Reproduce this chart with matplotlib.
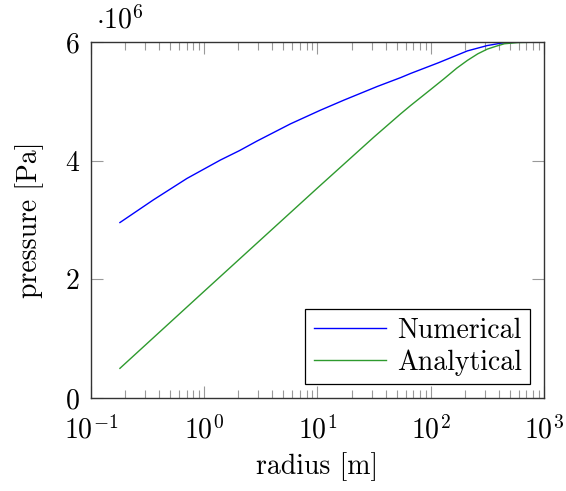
import matplotlib
matplotlib.use("Agg")
import matplotlib.pyplot as plt
from matplotlib.ticker import LogLocator, NullFormatter

plt.rcParams["font.family"] = "serif"
plt.rcParams["font.serif"] = ["cmr10"]
plt.rcParams["mathtext.fontset"] = "cm"
plt.rcParams["axes.formatter.use_mathtext"] = True

# radius [m] and pressure [1e6 Pa]
num_r = [0.18, 0.356, 0.703, 1.387, 2.05, 2.92, 5.77, 10.6, 17.1, 33.7, 54.3, 66.5,
         117, 211, 316, 417, 600, 1000]
num_p = [2.957, 3.34, 3.70, 4.01, 4.17, 4.33, 4.62, 4.85, 5.02, 5.25, 5.40, 5.47,
         5.65, 5.85, 5.94, 5.98, 6.0, 6.0]

ana_r = [0.18, 1.0, 10.0, 31.6, 54.3, 66.5, 100, 131, 170, 211, 260, 316, 380, 447, 589, 1000]
ana_p = [0.50, 1.80, 3.54, 4.40, 4.79, 4.93, 5.20, 5.38, 5.56, 5.69, 5.80, 5.88, 5.93, 5.97, 5.99, 6.0]

fig = plt.figure(figsize=(5.66, 4.91), dpi=100)
ax = fig.add_axes([0.1608, 0.1894, 0.8003, 0.7251])

ax.plot(num_r, num_p, color="#0000ff", lw=1.0, label="Numerical")
ax.plot(ana_r, ana_p, color="#2e9a2e", lw=1.0, label="Analytical")

ax.set_xscale("log")
ax.set_xlim(0.1, 1000)
ax.set_ylim(0, 6)
ax.set_yticks([0, 2, 4, 6])
ax.xaxis.set_minor_locator(LogLocator(base=10, subs=range(2, 10)))
ax.xaxis.set_minor_formatter(NullFormatter())

ax.tick_params(which="both", direction="in", top=True, right=True,
               color="#999999", width=0.8, labelsize=20)
ax.tick_params(which="major", length=8.5)
ax.tick_params(which="minor", length=5.5)
ax.tick_params(axis="x", pad=13)
ax.tick_params(axis="y", pad=8)
for s in ax.spines.values():
    s.set_linewidth(1.0)
    s.set_color("#333333")

ax.set_xlabel("radius [m]", fontsize=20, labelpad=5)
ax.set_ylabel("pressure [Pa]", fontsize=20, labelpad=15)
ax.text(0.01, 1.02, r"$\cdot 10^{6}$", transform=ax.transAxes, fontsize=20,
        ha="left", va="bottom")

leg = ax.legend(loc="lower right", fontsize=20, frameon=True, fancybox=False,
                edgecolor="black", framealpha=1, handlelength=2.6,
                borderpad=0.3, labelspacing=0.2, handletextpad=0.4,
                borderaxespad=0.5)
leg.get_frame().set_linewidth(0.9)

fig.savefig("out.png", dpi=100)
